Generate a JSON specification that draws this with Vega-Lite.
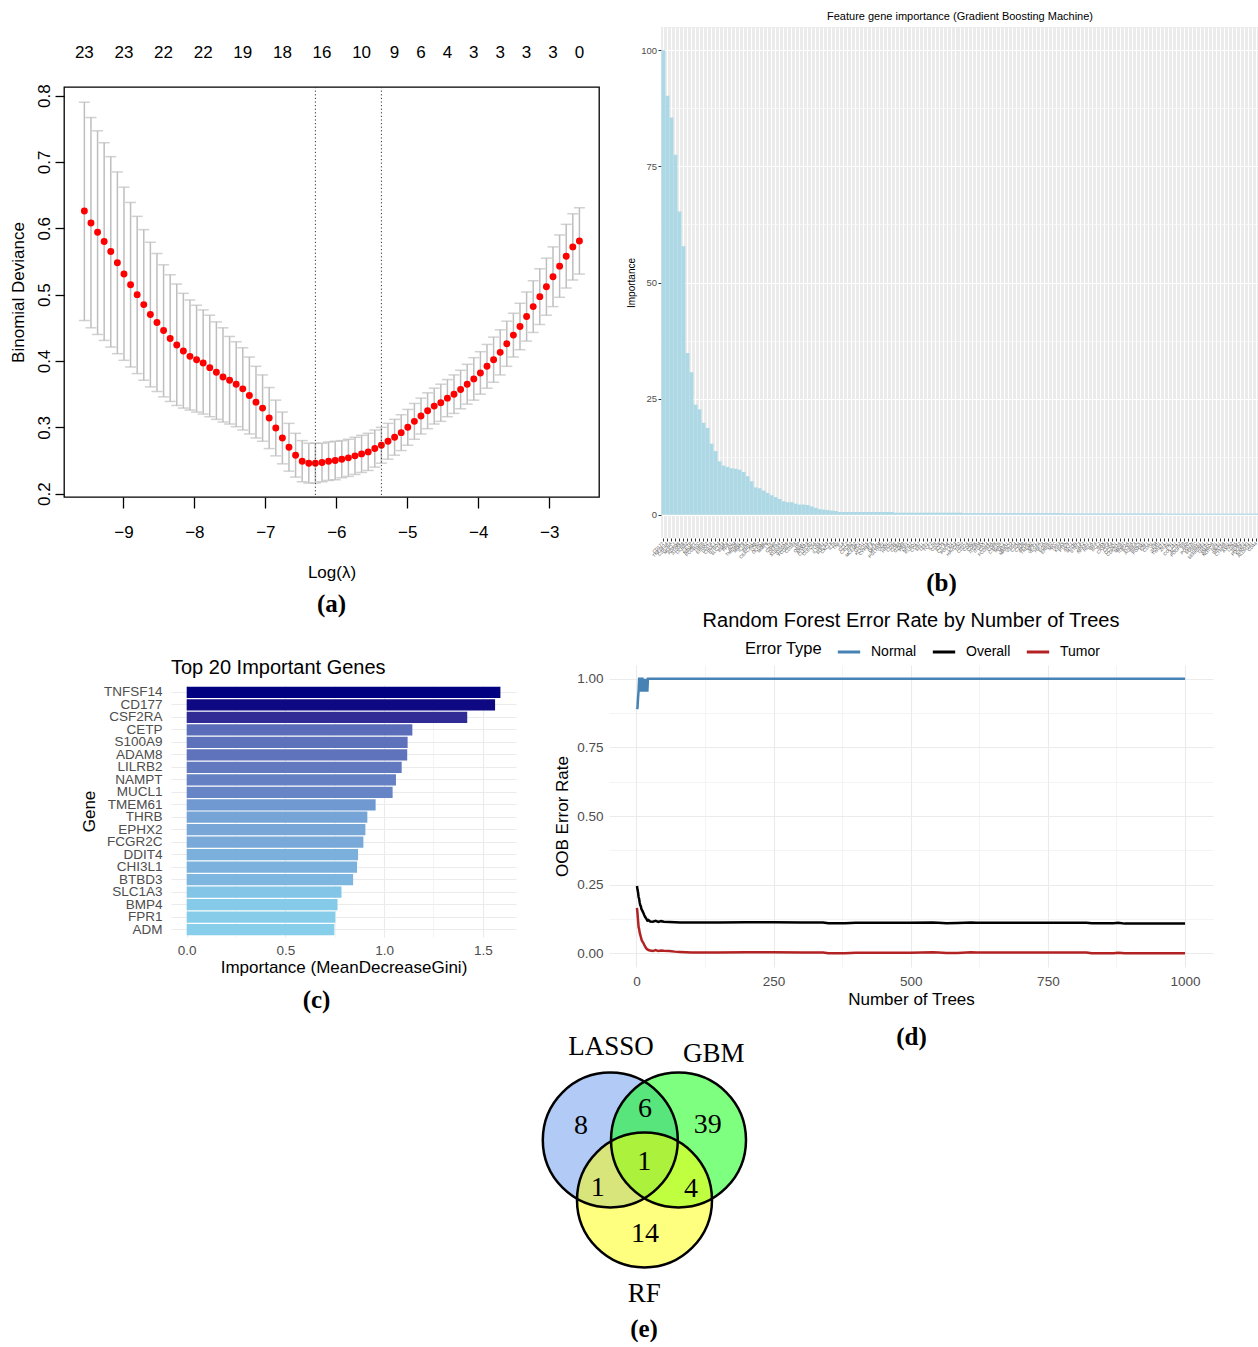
{
"$schema": "https://vega.github.io/schema/vega-lite/v6.json",
"padding": {"left": 8, "top": 11, "right": 0, "bottom": 0},
"background": "white",
"config": {"font": "Liberation Sans", "view": {"stroke": null}, "title": {"fontWeight": "normal", "color": "black"}, "axis": {"titleFontWeight": "normal", "titleColor": "black"}},
"datasets": {
"lasso": [
{"l":-9.550,"m":0.626,"lo":0.461,"hi":0.790},{"l":-9.457,"m":0.608,"lo":0.450,"hi":0.767},{"l":-9.364,"m":0.594,"lo":0.440,"hi":0.747},{"l":-9.271,"m":0.580,"lo":0.431,"hi":0.729},{"l":-9.178,"m":0.565,"lo":0.421,"hi":0.708},{"l":-9.085,"m":0.548,"lo":0.411,"hi":0.685},{"l":-8.992,"m":0.531,"lo":0.401,"hi":0.662},{"l":-8.899,"m":0.515,"lo":0.391,"hi":0.639},{"l":-8.806,"m":0.500,"lo":0.381,"hi":0.618},{"l":-8.713,"m":0.485,"lo":0.371,"hi":0.598},
{"l":-8.620,"m":0.470,"lo":0.361,"hi":0.579},{"l":-8.527,"m":0.458,"lo":0.354,"hi":0.562},{"l":-8.434,"m":0.446,"lo":0.346,"hi":0.545},{"l":-8.341,"m":0.434,"lo":0.339,"hi":0.530},{"l":-8.248,"m":0.424,"lo":0.333,"hi":0.516},{"l":-8.155,"m":0.415,"lo":0.329,"hi":0.502},{"l":-8.062,"m":0.407,"lo":0.326,"hi":0.492},{"l":-7.969,"m":0.402,"lo":0.323,"hi":0.484},{"l":-7.876,"m":0.397,"lo":0.320,"hi":0.477},{"l":-7.783,"m":0.390,"lo":0.316,"hi":0.469},
{"l":-7.690,"m":0.383,"lo":0.312,"hi":0.459},{"l":-7.597,"m":0.376,"lo":0.308,"hi":0.450},{"l":-7.504,"m":0.371,"lo":0.305,"hi":0.437},{"l":-7.411,"m":0.365,"lo":0.301,"hi":0.429},{"l":-7.318,"m":0.358,"lo":0.296,"hi":0.420},{"l":-7.225,"m":0.348,"lo":0.290,"hi":0.406},{"l":-7.132,"m":0.338,"lo":0.284,"hi":0.392},{"l":-7.039,"m":0.329,"lo":0.279,"hi":0.379},{"l":-6.946,"m":0.314,"lo":0.268,"hi":0.360},{"l":-6.853,"m":0.299,"lo":0.257,"hi":0.341},
{"l":-6.760,"m":0.284,"lo":0.245,"hi":0.323},{"l":-6.667,"m":0.270,"lo":0.234,"hi":0.306},{"l":-6.574,"m":0.258,"lo":0.225,"hi":0.291},{"l":-6.481,"m":0.249,"lo":0.218,"hi":0.280},{"l":-6.388,"m":0.246,"lo":0.216,"hi":0.276},{"l":-6.295,"m":0.246,"lo":0.216,"hi":0.276},{"l":-6.202,"m":0.247,"lo":0.218,"hi":0.276},{"l":-6.109,"m":0.249,"lo":0.220,"hi":0.278},{"l":-6.016,"m":0.250,"lo":0.221,"hi":0.279},{"l":-5.923,"m":0.252,"lo":0.224,"hi":0.280},
{"l":-5.830,"m":0.254,"lo":0.226,"hi":0.282},{"l":-5.737,"m":0.257,"lo":0.229,"hi":0.285},{"l":-5.644,"m":0.260,"lo":0.232,"hi":0.288},{"l":-5.551,"m":0.263,"lo":0.235,"hi":0.291},{"l":-5.458,"m":0.268,"lo":0.240,"hi":0.296},{"l":-5.365,"m":0.273,"lo":0.246,"hi":0.300},{"l":-5.272,"m":0.279,"lo":0.252,"hi":0.306},{"l":-5.179,"m":0.285,"lo":0.258,"hi":0.312},{"l":-5.086,"m":0.292,"lo":0.265,"hi":0.319},{"l":-4.993,"m":0.300,"lo":0.273,"hi":0.327},
{"l":-4.900,"m":0.309,"lo":0.282,"hi":0.336},{"l":-4.807,"m":0.317,"lo":0.290,"hi":0.344},{"l":-4.714,"m":0.325,"lo":0.298,"hi":0.352},{"l":-4.621,"m":0.332,"lo":0.305,"hi":0.359},{"l":-4.528,"m":0.337,"lo":0.309,"hi":0.365},{"l":-4.435,"m":0.344,"lo":0.316,"hi":0.372},{"l":-4.342,"m":0.350,"lo":0.321,"hi":0.379},{"l":-4.249,"m":0.357,"lo":0.328,"hi":0.386},{"l":-4.156,"m":0.365,"lo":0.335,"hi":0.395},{"l":-4.063,"m":0.373,"lo":0.341,"hi":0.405},
{"l":-3.970,"m":0.382,"lo":0.350,"hi":0.414},{"l":-3.877,"m":0.392,"lo":0.359,"hi":0.425},{"l":-3.784,"m":0.402,"lo":0.368,"hi":0.436},{"l":-3.691,"m":0.413,"lo":0.379,"hi":0.447},{"l":-3.598,"m":0.426,"lo":0.392,"hi":0.460},{"l":-3.505,"m":0.439,"lo":0.406,"hi":0.472},{"l":-3.412,"m":0.452,"lo":0.417,"hi":0.487},{"l":-3.319,"m":0.467,"lo":0.430,"hi":0.504},{"l":-3.226,"m":0.482,"lo":0.443,"hi":0.521},{"l":-3.133,"m":0.497,"lo":0.455,"hi":0.539},
{"l":-3.040,"m":0.512,"lo":0.469,"hi":0.555},{"l":-2.947,"m":0.527,"lo":0.482,"hi":0.572},{"l":-2.854,"m":0.543,"lo":0.496,"hi":0.590},{"l":-2.761,"m":0.558,"lo":0.510,"hi":0.606},{"l":-2.668,"m":0.572,"lo":0.522,"hi":0.622},{"l":-2.575,"m":0.581,"lo":0.531,"hi":0.631}
],
"nz": [
{"l":-9.550,"n":"23"},{"l":-8.992,"n":"23"},{"l":-8.434,"n":"22"},{"l":-7.876,"n":"22"},{"l":-7.318,"n":"19"},{"l":-6.760,"n":"18"},{"l":-6.202,"n":"16"},{"l":-5.644,"n":"10"},{"l":-5.179,"n":"9"},{"l":-4.807,"n":"6"},{"l":-4.435,"n":"4"},{"l":-4.063,"n":"3"},{"l":-3.691,"n":"3"},{"l":-3.319,"n":"3"},{"l":-2.947,"n":"3"},{"l":-2.575,"n":"0"}
],
"gbm": [
{"g":"CD177","v":100},{"g":"TNFSF14","v":90.2},{"g":"CSF2RA","v":85.5},{"g":"MUCL1","v":77.5},{"g":"ADAM8","v":65.3},{"g":"S100A9","v":57.8},{"g":"LILRB2","v":34.8},{"g":"CETP","v":30.7},{"g":"NAMPT","v":23.7},{"g":"FCGR2C","v":22.7},
{"g":"THRB","v":19.8},{"g":"EPHX2","v":18.7},{"g":"DDIT4","v":15.3},{"g":"CHI3L1","v":13.7},{"g":"BTBD3","v":11.5},{"g":"SLC1A3","v":10.6},{"g":"BMP4","v":10.3},{"g":"FPR1","v":10.0},{"g":"ADM","v":9.9},{"g":"TMEM61","v":9.7},
{"g":"MMP9","v":9.2},{"g":"IL1R2","v":8.3},{"g":"ARG1","v":7.2},{"g":"CEACAM8","v":5.9},{"g":"LCN2","v":5.7},{"g":"OLFM4","v":5.2},{"g":"MMP8","v":4.7},{"g":"LTF","v":4.2},{"g":"CAMP","v":3.8},{"g":"DEFA4","v":3.4},
{"g":"S100A12","v":2.9},{"g":"S100A8","v":2.7},{"g":"FCGR1A","v":2.7},{"g":"CD163","v":2.4},{"g":"HP","v":2.2},{"g":"ORM1","v":2.2},{"g":"ANXA3","v":2.1},{"g":"CLEC4D","v":1.8},{"g":"CLEC5A","v":1.5},{"g":"TLR5","v":1.2},
{"g":"IL18R1","v":1.1},{"g":"SOCS3","v":1.0},{"g":"CXCL8","v":0.9},{"g":"IL1B","v":0.8},{"g":"TNF","v":0.6},{"g":"IL6","v":0.6},{"g":"CCL2","v":0.6},{"g":"CXCR2","v":0.6},{"g":"FPR2","v":0.6},{"g":"MCEMP1","v":0.6},
{"g":"GYG1","v":0.6},{"g":"KCNJ15","v":0.6},{"g":"CYP4F3","v":0.6},{"g":"ALPL","v":0.6},{"g":"MGAM","v":0.6},{"g":"PGLYRP1","v":0.6},{"g":"VNN1","v":0.6},{"g":"HPGD","v":0.6},{"g":"CD3E","v":0.45},{"g":"CD8A","v":0.45},
{"g":"GZMB","v":0.45},{"g":"PRF1","v":0.45},{"g":"NKG7","v":0.45},{"g":"KLRD1","v":0.45},{"g":"CCR7","v":0.45},{"g":"SELL","v":0.45},{"g":"LEF1","v":0.45},{"g":"TCF7","v":0.45},{"g":"IL7R","v":0.45},{"g":"CD28","v":0.45},
{"g":"ICOS","v":0.45},{"g":"CTLA4","v":0.45},{"g":"PDCD1","v":0.45},{"g":"LAG3","v":0.45},{"g":"HAVCR2","v":0.45},{"g":"TIGIT","v":0.35},{"g":"CD274","v":0.35},{"g":"CD80","v":0.35},{"g":"CD86","v":0.35},{"g":"ITGAM","v":0.35},
{"g":"ITGAX","v":0.35},{"g":"CD14","v":0.35},{"g":"FCGR3A","v":0.35},{"g":"CD68","v":0.35},{"g":"CSF1R","v":0.35},{"g":"MRC1","v":0.35},{"g":"MSR1","v":0.35},{"g":"MARCO","v":0.35},{"g":"VSIG4","v":0.35},{"g":"C1QA","v":0.35},
{"g":"C1QB","v":0.35},{"g":"APOE","v":0.35},{"g":"TREM2","v":0.35},{"g":"SPP1","v":0.35},{"g":"VEGFA","v":0.35},{"g":"HIF1A","v":0.35},{"g":"EGFR","v":0.35},{"g":"ERBB2","v":0.35},{"g":"MYC","v":0.35},{"g":"TP53","v":0.35},
{"g":"KRAS","v":0.3},{"g":"PTEN","v":0.3},{"g":"AKT1","v":0.3},{"g":"MTOR","v":0.3},{"g":"STAT3","v":0.3},{"g":"JAK2","v":0.3},{"g":"NFKB1","v":0.3},{"g":"RELA","v":0.3},{"g":"IRF4","v":0.3},{"g":"BCL2","v":0.3},
{"g":"BAX","v":0.3},{"g":"CASP3","v":0.3},{"g":"CDK4","v":0.3},{"g":"CCND1","v":0.3},{"g":"CDKN2A","v":0.3},{"g":"MKI67","v":0.3},{"g":"TOP2A","v":0.3},{"g":"PCNA","v":0.3},{"g":"AURKA","v":0.3},{"g":"BIRC5","v":0.3},
{"g":"FOXM1","v":0.3},{"g":"E2F1","v":0.3},{"g":"CDH1","v":0.3},{"g":"VIM","v":0.3},{"g":"SNAI1","v":0.3},{"g":"TWIST1","v":0.25},{"g":"ZEB1","v":0.25},{"g":"FN1","v":0.25},{"g":"COL1A1","v":0.25},{"g":"ACTA2","v":0.25},
{"g":"PDGFRB","v":0.25},{"g":"FAP","v":0.25},{"g":"POSTN","v":0.25},{"g":"SPARC","v":0.25},{"g":"THBS1","v":0.25},{"g":"SERPINE1","v":0.25},{"g":"TGFB1","v":0.25},{"g":"SMAD4","v":0.25},{"g":"NOTCH1","v":0.25},{"g":"HES1","v":0.25},
{"g":"WNT5A","v":0.25},{"g":"CTNNB1","v":0.25},{"g":"AXIN2","v":0.25},{"g":"LGR5","v":0.25},{"g":"SOX2","v":0.25},{"g":"POU5F1","v":0.25},{"g":"NANOG","v":0.25},{"g":"ALDH1A1","v":0.25},{"g":"CD44","v":0.25}
],
"rf": [
{"g":"TNFSF14","v":1.589},{"g":"CD177","v":1.562},{"g":"CSF2RA","v":1.421},{"g":"CETP","v":1.143},{"g":"S100A9","v":1.119},{"g":"ADAM8","v":1.117},{"g":"LILRB2","v":1.089},{"g":"NAMPT","v":1.060},{"g":"MUCL1","v":1.043},{"g":"TMEM61","v":0.957},
{"g":"THRB","v":0.915},{"g":"EPHX2","v":0.905},{"g":"FCGR2C","v":0.895},{"g":"DDIT4","v":0.868},{"g":"CHI3L1","v":0.863},{"g":"BTBD3","v":0.843},{"g":"SLC1A3","v":0.784},{"g":"BMP4","v":0.764},{"g":"FPR1","v":0.753},{"g":"ADM","v":0.748}
],
"oob": [
{"s":"Normal","t":1,"e":0.889},{"s":"Normal","t":2,"e":0.895},{"s":"Normal","t":3,"e":0.93},{"s":"Normal","t":4,"e":0.957},{"s":"Normal","t":5,"e":1},{"s":"Normal","t":6,"e":1},{"s":"Normal","t":7,"e":0.957},{"s":"Normal","t":8,"e":0.957},{"s":"Normal","t":9,"e":1},{"s":"Normal","t":10,"e":1},{"s":"Normal","t":11,"e":1},{"s":"Normal","t":12,"e":0.957},{"s":"Normal","t":13,"e":0.957},{"s":"Normal","t":14,"e":1},{"s":"Normal","t":15,"e":0.957},{"s":"Normal","t":16,"e":0.957},{"s":"Normal","t":17,"e":0.957},{"s":"Normal","t":18,"e":1},{"s":"Normal","t":19,"e":0.957},{"s":"Normal","t":20,"e":0.957},{"s":"Normal","t":21,"e":1},{"s":"Normal","t":22,"e":1},{"s":"Normal","t":1000,"e":1},
{"s":"Overall","t":1,"e":0.245},{"s":"Overall","t":2,"e":0.232},{"s":"Overall","t":3,"e":0.222},{"s":"Overall","t":4,"e":0.205},{"s":"Overall","t":5,"e":0.198},{"s":"Overall","t":6,"e":0.185},{"s":"Overall","t":7,"e":0.175},{"s":"Overall","t":8,"e":0.172},{"s":"Overall","t":9,"e":0.162},{"s":"Overall","t":10,"e":0.158},{"s":"Overall","t":12,"e":0.150},{"s":"Overall","t":14,"e":0.140},{"s":"Overall","t":16,"e":0.132},{"s":"Overall","t":18,"e":0.126},{"s":"Overall","t":20,"e":0.119},{"s":"Overall","t":22,"e":0.121},{"s":"Overall","t":25,"e":0.116},{"s":"Overall","t":30,"e":0.115},{"s":"Overall","t":35,"e":0.118},{"s":"Overall","t":40,"e":0.114},{"s":"Overall","t":45,"e":0.117},{"s":"Overall","t":50,"e":0.115},{"s":"Overall","t":60,"e":0.114},{"s":"Overall","t":70,"e":0.113},{"s":"Overall","t":80,"e":0.112},{"s":"Overall","t":100,"e":0.112},{"s":"Overall","t":150,"e":0.112},{"s":"Overall","t":200,"e":0.113},{"s":"Overall","t":250,"e":0.113},{"s":"Overall","t":300,"e":0.112},{"s":"Overall","t":340,"e":0.112},{"s":"Overall","t":350,"e":0.109},{"s":"Overall","t":380,"e":0.109},{"s":"Overall","t":400,"e":0.111},{"s":"Overall","t":500,"e":0.111},{"s":"Overall","t":540,"e":0.112},{"s":"Overall","t":550,"e":0.111},{"s":"Overall","t":565,"e":0.109},{"s":"Overall","t":585,"e":0.110},{"s":"Overall","t":610,"e":0.112},{"s":"Overall","t":620,"e":0.111},{"s":"Overall","t":700,"e":0.111},{"s":"Overall","t":820,"e":0.111},{"s":"Overall","t":830,"e":0.109},{"s":"Overall","t":870,"e":0.109},{"s":"Overall","t":878,"e":0.111},{"s":"Overall","t":890,"e":0.108},{"s":"Overall","t":1000,"e":0.108},
{"s":"Tumor","t":1,"e":0.165},{"s":"Tumor","t":2,"e":0.145},{"s":"Tumor","t":3,"e":0.12},{"s":"Tumor","t":4,"e":0.095},{"s":"Tumor","t":5,"e":0.088},{"s":"Tumor","t":6,"e":0.075},{"s":"Tumor","t":7,"e":0.068},{"s":"Tumor","t":8,"e":0.06},{"s":"Tumor","t":9,"e":0.052},{"s":"Tumor","t":10,"e":0.046},{"s":"Tumor","t":12,"e":0.04},{"s":"Tumor","t":14,"e":0.032},{"s":"Tumor","t":16,"e":0.024},{"s":"Tumor","t":18,"e":0.018},{"s":"Tumor","t":20,"e":0.014},{"s":"Tumor","t":22,"e":0.012},{"s":"Tumor","t":25,"e":0.01},{"s":"Tumor","t":30,"e":0.008},{"s":"Tumor","t":35,"e":0.012},{"s":"Tumor","t":40,"e":0.008},{"s":"Tumor","t":45,"e":0.01},{"s":"Tumor","t":50,"e":0.009},{"s":"Tumor","t":60,"e":0.008},{"s":"Tumor","t":70,"e":0.006},{"s":"Tumor","t":80,"e":0.005},{"s":"Tumor","t":100,"e":0.003},{"s":"Tumor","t":150,"e":0.003},{"s":"Tumor","t":200,"e":0.004},{"s":"Tumor","t":250,"e":0.004},{"s":"Tumor","t":300,"e":0.003},{"s":"Tumor","t":340,"e":0.003},{"s":"Tumor","t":350,"e":0.0},{"s":"Tumor","t":380,"e":0.0},{"s":"Tumor","t":400,"e":0.002},{"s":"Tumor","t":500,"e":0.002},{"s":"Tumor","t":540,"e":0.004},{"s":"Tumor","t":550,"e":0.003},{"s":"Tumor","t":565,"e":0.001},{"s":"Tumor","t":585,"e":0.001},{"s":"Tumor","t":610,"e":0.004},{"s":"Tumor","t":620,"e":0.003},{"s":"Tumor","t":700,"e":0.003},{"s":"Tumor","t":820,"e":0.003},{"s":"Tumor","t":830,"e":0.0},{"s":"Tumor","t":870,"e":0.0},{"s":"Tumor","t":878,"e":0.002},{"s":"Tumor","t":890,"e":0.0},{"s":"Tumor","t":1000,"e":0.0}
],
"venn": [{"set":"LASSO","x":116.3,"y":173},{"set":"GBM","x":184.5,"y":173},{"set":"RF","x":150.5,"y":233}],
"vcount": [{"n":"8","x":87,"y":158.7},{"n":"6","x":151,"y":142},{"n":"39","x":213.7,"y":158},{"n":"1","x":150.3,"y":195.3},{"n":"1","x":103.7,"y":221.3},{"n":"4","x":197,"y":222},{"n":"14","x":151,"y":267}],
"vlab": [{"t":"LASSO","x":117,"y":80.3},{"t":"GBM","x":219.7,"y":87},{"t":"RF","x":150.3,"y":327}]
},
"columns": 5,
"spacing": 0,
"bounds": "flush",
"concat": [
  {"width": 107, "height": 60, "data": {"values": [{}]}, "mark": {"type": "point", "opacity": 0}},
  {"width": 323, "height": 1, "data": {"values": [{}]}, "mark": {"type": "point", "opacity": 0}},
  {"width": 115, "height": 1, "data": {"values": [{}]}, "mark": {"type": "point", "opacity": 0}},
  {"width": 52, "height": 1, "data": {"values": [{}]}, "mark": {"type": "point", "opacity": 0}},
  {"vconcat": [
  {"width": 598, "height": 511,
   "view": {"fill": "#EBEBEB", "stroke": null},
   "title": {"text": "Feature gene importance (Gradient Boosting Machine)", "fontSize": 11, "anchor": "middle", "frame": "group", "offset": 5},
   "data": {"name": "gbm"},
   "layer": [
     {"mark": {"type": "bar", "opacity": 0},
      "encoding": {
        "x": {"field": "g", "type": "nominal", "sort": null, "axis": null},
        "y": {"field": "v", "type": "quantitative", "axis": {"orient": "right", "values": [12.5, 37.5, 62.5, 87.5], "grid": true, "gridColor": "white", "gridWidth": 0.55, "labels": false, "ticks": false, "domain": false, "title": null}}}},
     {"mark": {"type": "bar", "color": "#ADD8E6"},
      "encoding": {
        "x": {"field": "g", "type": "nominal", "sort": null, "scale": {"paddingInner": 0, "paddingOuter": 0.1},
              "axis": {"orient": "bottom", "labelAngle": -45, "labelAlign": "right", "labelBaseline": "middle", "labelFontSize": 4.5, "labelColor": "#4D4D4D", "labelPadding": 1.5, "labelOverlap": false, "labelBound": false, "labelLimit": 0, "ticks": true, "tickSize": 3, "tickColor": "#333333", "tickWidth": 1, "domain": false, "grid": true, "gridColor": "white", "gridWidth": 1, "bandPosition": 0.5,
                       "title": "(b)", "titleFont": "Liberation Serif", "titleFontWeight": "bold", "titleFontSize": 25, "titleColor": "black", "titleX": 280, "titleY": 44, "titleAlign": "center", "titleBaseline": "middle", "titleAngle": 0}},
        "y": {"field": "v", "type": "quantitative", "scale": {"domain": [-5, 105], "nice": false, "zero": false},
              "axis": {"orient": "left", "values": [0, 25, 50, 75, 100], "labelFontSize": 9.5, "labelColor": "#4D4D4D", "labelPadding": 1.5, "tickSize": 3, "tickColor": "#333333", "domain": false, "grid": true, "gridColor": "white", "gridWidth": 1.1, "title": "Importance", "titleFontSize": 10, "titlePadding": 4}},
        "y2": {"datum": 0}}}
   ],
   "resolve": {"axis": {"x": "independent", "y": "independent"}}}
  ], "spacing": 0},

  {"vconcat": [
  {"width": 535, "height": 410,
   "view": {"stroke": "black", "strokeWidth": 1.3},
   "title": {"text": "(a)", "orient": "bottom", "font": "Liberation Serif", "fontWeight": "bold", "fontSize": 25, "offset": 12, "anchor": "middle", "frame": "group"},
   "data": {"name": "lasso"},
   "layer": [
     {"mark": {"type": "rule", "color": "#BEBEBE", "strokeWidth": 1.5},
      "encoding": {
        "x": {"field": "l", "type": "quantitative", "scale": {"domain": [-9.837, -2.299], "nice": false, "zero": false},
              "axis": {"orient": "bottom", "values": [-9,-8,-7,-6,-5,-4,-3], "format": ".0f", "domain": false, "grid": false, "tickSize": 11, "tickColor": "black", "tickWidth": 1.3, "labelFontSize": 17, "labelColor": "black", "labelPadding": 16, "labelFlush": false, "title": "Log(λ)", "titleFontSize": 17, "titlePadding": 24}},
        "y": {"field": "lo", "type": "quantitative", "title": "Binomial Deviance", "scale": {"domain": [0.195, 0.813], "nice": false, "zero": false},
              "axis": {"orient": "left", "values": [0.2,0.3,0.4,0.5,0.6,0.7,0.8], "format": ".1f", "labelAngle": -90, "labelAlign": "center", "labelBaseline": "bottom", "domain": false, "grid": false, "tickSize": 9, "tickColor": "black", "tickWidth": 1.3, "labelFontSize": 17, "labelColor": "black", "labelPadding": 2, "labelFlush": false, "title": "Binomial Deviance", "titleFontSize": 17, "titlePadding": 8}},
        "y2": {"field": "hi"}}},
     {"mark": {"type": "tick", "orient": "horizontal", "color": "#BEBEBE", "thickness": 1.5, "size": 11},
      "encoding": {"x": {"field": "l", "type": "quantitative"}, "y": {"field": "hi", "type": "quantitative", "title": "Binomial Deviance"}}},
     {"mark": {"type": "tick", "orient": "horizontal", "color": "#BEBEBE", "thickness": 1.5, "size": 11},
      "encoding": {"x": {"field": "l", "type": "quantitative"}, "y": {"field": "lo", "type": "quantitative", "title": "Binomial Deviance"}}},
     {"mark": {"type": "point", "filled": true, "color": "#FF0000", "size": 48, "opacity": 1},
      "encoding": {"x": {"field": "l", "type": "quantitative"}, "y": {"field": "m", "type": "quantitative", "title": "Binomial Deviance"}}},
     {"data": {"values": [{"v": -6.295}, {"v": -5.365}]},
      "mark": {"type": "rule", "strokeDash": [1.2, 2.4], "color": "#333333", "strokeWidth": 1},
      "encoding": {"x": {"field": "v", "type": "quantitative"}}},
     {"data": {"name": "nz"},
      "mark": {"type": "text", "fontSize": 17, "color": "black", "baseline": "middle"},
      "encoding": {"x": {"field": "l", "type": "quantitative"}, "y": {"datum": 0.864}, "text": {"field": "n"}}}
   ]}
  ], "spacing": 0},
  {"width": 1, "height": 578, "data": {"values": [{}]}, "mark": {"type": "point", "opacity": 0}},
  {"width": 1, "height": 1, "data": {"values": [{}]}, "mark": {"type": "point", "opacity": 0}},
  {"width": 1, "height": 1, "data": {"values": [{}]}, "mark": {"type": "point", "opacity": 0}},
  {"width": 1, "height": 1, "data": {"values": [{}]}, "mark": {"type": "point", "opacity": 0}},

  {"width": 1, "height": 1, "data": {"values": [{}]}, "mark": {"type": "point", "opacity": 0}},
  {"width": 1, "height": 1, "data": {"values": [{}]}, "mark": {"type": "point", "opacity": 0}},
  {"width": 1, "height": 1, "data": {"values": [{}]}, "mark": {"type": "point", "opacity": 0}},
  {"vconcat": [
  {"width": 604, "height": 302,
   "title": {"text": "Random Forest Error Rate by Number of Trees", "fontSize": 20, "anchor": "middle", "frame": "group", "offset": 34},
   "data": {"name": "oob"},
   "layer": [
     {"mark": {"type": "line", "opacity": 0},
      "encoding": {
        "x": {"field": "t", "type": "quantitative", "axis": {"orient": "top", "values": [125, 375, 625, 875], "grid": true, "gridColor": "#EBEBEB", "gridWidth": 0.55, "labels": false, "ticks": false, "domain": false,
              "title": "(d)", "titleFont": "Liberation Serif", "titleFontWeight": "bold", "titleFontSize": 25, "titleColor": "black", "titleX": 302, "titleY": 371, "titleAlign": "center", "titleBaseline": "middle", "titleAngle": 0}},
        "y": {"field": "e", "type": "quantitative", "axis": {"orient": "right", "values": [0.125, 0.375, 0.625, 0.875], "grid": true, "gridColor": "#EBEBEB", "gridWidth": 0.55, "labels": false, "ticks": false, "domain": false, "title": null}},
        "detail": {"field": "s"}}},
     {"mark": {"type": "line", "strokeWidth": 2.5},
      "encoding": {
        "x": {"field": "t", "type": "quantitative", "scale": {"domain": [-49.95, 1050.95], "nice": false, "zero": false},
              "axis": {"orient": "bottom", "values": [0, 250, 500, 750, 1000], "format": "d", "labelFontSize": 13.5, "labelColor": "#4D4D4D", "labelPadding": 7, "ticks": false, "domain": false, "grid": true, "gridColor": "#EBEBEB", "gridWidth": 1.1, "labelFlush": false, "title": "Number of Trees", "titleFontSize": 17, "titlePadding": 4}},
        "y": {"field": "e", "type": "quantitative", "scale": {"domain": [-0.05, 1.05], "nice": false, "zero": false},
              "axis": {"orient": "left", "values": [0, 0.25, 0.5, 0.75, 1], "format": ".2f", "labelFontSize": 13.5, "labelColor": "#4D4D4D", "labelPadding": 6, "ticks": false, "domain": false, "grid": true, "gridColor": "#EBEBEB", "gridWidth": 1.1, "title": "OOB Error Rate", "titleFontSize": 17, "titlePadding": 5}},
        "color": {"field": "s", "type": "nominal", "scale": {"domain": ["Normal", "Overall", "Tumor"], "range": ["#4682B4", "#000000", "#B22222"]},
                  "legend": {"title": "Error Type", "orient": "none", "legendX": 136, "legendY": -26, "direction": "horizontal", "columns": 3, "titleOrient": "left", "titleFontSize": 16.5, "titleFontWeight": "normal", "titleColor": "black", "titlePadding": 13, "labelFontSize": 14, "labelColor": "black", "symbolType": "stroke", "symbolStrokeWidth": 3, "symbolSize": 500, "labelOffset": 9, "columnPadding": 9}}}}
   ],
   "resolve": {"axis": {"x": "independent", "y": "independent"}}}
  ], "spacing": 0},
  {"width": 1, "height": 20, "data": {"values": [{}]}, "mark": {"type": "point", "opacity": 0}},

  {"width": 1, "height": 1, "data": {"values": [{}]}, "mark": {"type": "point", "opacity": 0}},
  {"vconcat": [
  {"width": 345, "height": 252,
   "title": {"text": "Top 20 Important Genes", "fontSize": 20, "anchor": "start", "frame": "group", "offset": 7},
   "data": {"name": "rf"},
   "layer": [
     {"mark": {"type": "bar", "opacity": 0},
      "encoding": {
        "y": {"field": "g", "type": "nominal", "sort": {"field": "v", "order": "descending"}, "axis": null},
        "x": {"field": "v", "type": "quantitative", "axis": {"orient": "top", "values": [0.25, 0.75, 1.25], "grid": true, "gridColor": "#EBEBEB", "gridWidth": 0.55, "labels": false, "ticks": false, "domain": false,
              "title": "(c)", "titleFont": "Liberation Serif", "titleFontWeight": "bold", "titleFontSize": 25, "titleColor": "black", "titleX": 145, "titleY": 314, "titleAlign": "center", "titleBaseline": "middle", "titleAngle": 0}}}},
     {"mark": {"type": "bar"},
      "encoding": {
        "y": {"field": "g", "type": "nominal", "sort": {"field": "v", "order": "descending"}, "scale": {"paddingInner": 0.1, "paddingOuter": 0.15},
              "axis": {"orient": "left", "labelFontSize": 13.5, "labelColor": "#4D4D4D", "labelPadding": 9, "ticks": false, "domain": false, "grid": true, "gridColor": "#EBEBEB", "gridWidth": 1.1, "bandPosition": 0.5, "title": "Gene", "titleFontSize": 17, "titlePadding": 5}},
        "x": {"field": "v", "type": "quantitative", "scale": {"domain": [-0.0795, 1.668], "nice": false, "zero": false},
              "axis": {"orient": "bottom", "values": [0, 0.5, 1, 1.5], "format": ".1f", "labelFontSize": 13.5, "labelColor": "#4D4D4D", "labelPadding": 6, "ticks": false, "domain": false, "grid": true, "gridColor": "#EBEBEB", "gridWidth": 1.1, "labelFlush": false, "title": "Importance (MeanDecreaseGini)", "titleFontSize": 17, "titlePadding": 3}},
        "x2": {"datum": 0},
        "color": {"field": "v", "type": "quantitative", "scale": {"range": ["#87CEEB", "#000080"], "interpolate": "lab"}, "legend": null}}}
   ],
   "resolve": {"axis": {"x": "independent", "y": "independent"}}}
  ], "spacing": 0},
  {"width": 1, "height": 282, "data": {"values": [{}]}, "mark": {"type": "point", "opacity": 0}},
  {"width": 1, "height": 1, "data": {"values": [{}]}, "mark": {"type": "point", "opacity": 0}},
  {"width": 1, "height": 1, "data": {"values": [{}]}, "mark": {"type": "point", "opacity": 0}},

  {"width": 1, "height": 1, "data": {"values": [{}]}, "mark": {"type": "point", "opacity": 0}},
  {"width": 1, "height": 1, "data": {"values": [{}]}, "mark": {"type": "point", "opacity": 0}},
  {"vconcat": [
  {"width": 300, "height": 342,
   "title": {"text": "(e)", "orient": "bottom", "font": "Liberation Serif", "fontWeight": "bold", "fontSize": 25, "offset": 8, "anchor": "middle", "frame": "group"},
   "layer": [
     {"data": {"name": "venn"},
      "mark": {"type": "point", "shape": "circle", "filled": true, "fillOpacity": 0.5, "strokeWidth": 0, "size": 18225, "opacity": 1},
      "encoding": {
        "x": {"field": "x", "type": "quantitative", "scale": {"domain": [0, 300], "nice": false, "zero": false}, "axis": null},
        "y": {"field": "y", "type": "quantitative", "scale": {"domain": [0, 342], "nice": false, "zero": false, "reverse": true}, "axis": null},
        "color": {"field": "set", "type": "nominal", "scale": {"domain": ["LASSO", "GBM", "RF"], "range": ["#6495ED", "#00FF00", "#FFFF00"]}, "legend": null}}},
     {"data": {"name": "venn"},
      "mark": {"type": "point", "shape": "circle", "filled": false, "stroke": "black", "strokeWidth": 2.5, "size": 18225, "opacity": 1},
      "encoding": {"x": {"field": "x", "type": "quantitative"}, "y": {"field": "y", "type": "quantitative"}}},
     {"data": {"name": "vcount"},
      "mark": {"type": "text", "font": "Liberation Serif", "fontSize": 28, "baseline": "middle", "color": "black"},
      "encoding": {"x": {"field": "x", "type": "quantitative"}, "y": {"field": "y", "type": "quantitative"}, "text": {"field": "n"}}},
     {"data": {"name": "vlab"},
      "mark": {"type": "text", "font": "Liberation Serif", "fontSize": 27, "baseline": "middle", "color": "black"},
      "encoding": {"x": {"field": "x", "type": "quantitative"}, "y": {"field": "y", "type": "quantitative"}, "text": {"field": "t"}}}
   ]}
  ], "spacing": 0},
  {"width": 1, "height": 1, "data": {"values": [{}]}, "mark": {"type": "point", "opacity": 0}},
  {"width": 1, "height": 1, "data": {"values": [{}]}, "mark": {"type": "point", "opacity": 0}}
]
}
